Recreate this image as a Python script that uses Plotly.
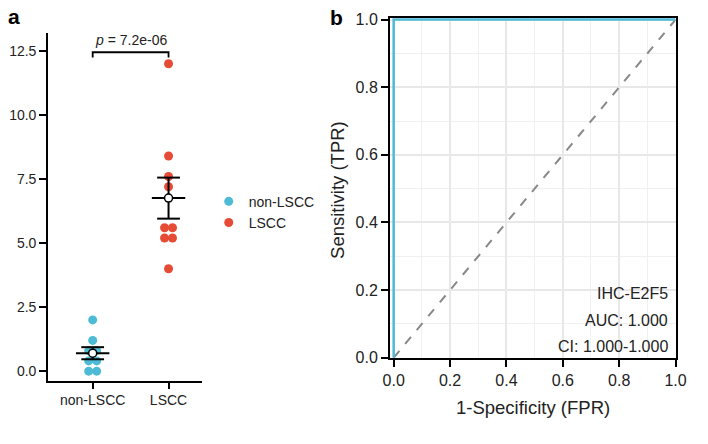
import numpy as np
import plotly.graph_objects as go

# ---------------- data ----------------
categories = ["non-LSCC", "LSCC"]
non_lscc_values = [2.0, 1.2, 0.8, 0.8, 0.4, 0.4, 0.0, 0.0]
lscc_values = [12.0, 8.4, 7.6, 7.2, 5.6, 5.6, 5.2, 5.2, 4.0]
p_label = "<i>p</i> = 7.2e-06"

roc_fpr = [0.0, 0.0, 1.0]
roc_tpr = [0.0, 1.0, 1.0]
diag = [0.0, 1.0]
roc_labels = ["IHC-E2F5", "AUC: 1.000", "CI: 1.000-1.000"]

colors = ["#4DBBD5", "#E64B35"]
FONT = "Liberation Sans, Arial, sans-serif"
TXT = "#222222"
W, H = 708, 444


def px_x(p):
    return p / W


def px_y(p):
    return 1 - p / H


def swarm_offsets(vals, step=0.05):
    """simple beeswarm: identical values are spread side by side"""
    vals = np.asarray(vals)
    off = np.zeros(len(vals))
    for v in np.unique(vals):
        idx = np.where(vals == v)[0]
        n = len(idx)
        off[idx] = (np.arange(n) - (n - 1) / 2) * step
    return off


fig = go.Figure()

# ---------------- panel a ----------------
groups = [non_lscc_values, lscc_values]
for i, (cat, vals) in enumerate(zip(categories, groups)):
    xpos = i + 1 + swarm_offsets(vals, 0.105)
    fig.add_trace(go.Scatter(
        x=xpos, y=vals, mode="markers", name=cat,
        marker=dict(color=colors[i], size=9, line=dict(width=0)),
        xaxis="x", yaxis="y", showlegend=True))

for i, vals in enumerate(groups):
    v = np.asarray(vals)
    m = v.mean()
    se = v.std(ddof=1) / np.sqrt(len(v))
    c = i + 1
    lx, ly = [], []
    lx += [c, c, None]; ly += [m - se, m + se, None]
    for yy in (m - se, m + se):
        lx += [c - 0.15, c + 0.15, None]; ly += [yy, yy, None]
    lx += [c - 0.22, c + 0.22, None]; ly += [m, m, None]
    fig.add_trace(go.Scatter(x=lx, y=ly, mode="lines",
                             line=dict(color="black", width=2),
                             xaxis="x", yaxis="y", showlegend=False, hoverinfo="skip"))
    fig.add_trace(go.Scatter(x=[c], y=[m], mode="markers",
                             marker=dict(color="white", size=8, line=dict(color="black", width=1.5)),
                             xaxis="x", yaxis="y", showlegend=False))

# significance bracket
ymax = max(max(non_lscc_values), max(lscc_values))
yb = ymax + 0.45
fig.add_trace(go.Scatter(x=[1, 1, 2, 2], y=[yb - 0.2, yb, yb, yb - 0.2], mode="lines",
                         line=dict(color="black", width=1.8),
                         xaxis="x", yaxis="y", showlegend=False, hoverinfo="skip"))
fig.add_annotation(x=1.5, y=yb, xref="x", yref="y", text=p_label, showarrow=False,
                   yanchor="bottom", yshift=2, font=dict(size=14, color=TXT, family=FONT))

# ---------------- panel b ----------------
fig.add_trace(go.Scatter(x=diag, y=diag, mode="lines",
                         line=dict(color="#888888", width=2, dash="dash"),
                         xaxis="x2", yaxis="y2", showlegend=False))
fig.add_trace(go.Scatter(x=roc_fpr, y=roc_tpr, mode="lines",
                         line=dict(color="#4DBBD5", width=2.5),
                         xaxis="x2", yaxis="y2", showlegend=False, cliponaxis=False))

for k, t in enumerate(roc_labels):
    fig.add_annotation(x=px_x(680), y=px_y([298, 326, 352][k]), xref="paper", yref="paper",
                       text=t, showarrow=False, xanchor="right", yanchor="middle",
                       font=dict(size=16, color=TXT, family=FONT))

# axis titles and panel tags
fig.add_annotation(x=px_x(540), y=px_y(416), xref="paper", yref="paper",
                   text="1-Specificity (FPR)", showarrow=False, xanchor="center", yanchor="middle",
                   font=dict(size=18.5, color=TXT, family=FONT))
fig.add_annotation(x=px_x(339), y=px_y(190), xref="paper", yref="paper",
                   text="Sensitivity (TPR)", showarrow=False, textangle=-90,
                   xanchor="center", yanchor="middle",
                   font=dict(size=18.5, color=TXT, family=FONT))
fig.add_annotation(x=px_x(7), y=px_y(11), xref="paper", yref="paper", text="<b>a</b>",
                   showarrow=False, xanchor="center", yanchor="middle",
                   font=dict(size=21, color="black", family=FONT))
fig.add_annotation(x=px_x(338), y=px_y(12), xref="paper", yref="paper", text="<b>b</b>",
                   showarrow=False, xanchor="center", yanchor="middle",
                   font=dict(size=21, color="black", family=FONT))

tickfont_ax = dict(size=14, color=TXT, family=FONT)
tickfont_ay = dict(size=14, color=TXT, family=FONT)
tickfont_b = dict(size=16, color=TXT, family=FONT)

fig.update_layout(
    width=W, height=H,
    margin=dict(l=0, r=0, t=0, b=0),
    paper_bgcolor="white", plot_bgcolor="white",
    font=dict(family=FONT, color=TXT),
    showlegend=True,
    legend=dict(x=px_x(207), y=px_y(186), xanchor="left", yanchor="top",
                font=dict(size=14, color=TXT, family=FONT),
                bgcolor="rgba(0,0,0,0)", tracegroupgap=0, itemwidth=30),
    xaxis=dict(domain=[px_x(42), px_x(200)], range=[0.41, 2.44],
               tickvals=[1, 2], ticktext=categories,
               showline=True, linecolor="black", linewidth=1.5,
               ticks="outside", ticklen=6, tickwidth=1.5, tickcolor="black",
               showgrid=False, zeroline=False, tickfont=tickfont_ax, anchor="y"),
    yaxis=dict(domain=[px_y(388), px_y(28)], range=[-0.38, 13.2],
               tickvals=[0, 2.5, 5, 7.5, 10, 12.5], tickformat=".1f",
               showline=True, linecolor="black", linewidth=1.5,
               ticks="outside", ticklen=7, tickwidth=1.5, tickcolor="black",
               showgrid=False, zeroline=False, tickfont=tickfont_ay, anchor="x"),
    xaxis2=dict(domain=[px_x(393), px_x(686)], range=[-0.013, 1.0],
                tickvals=[0, 0.2, 0.4, 0.6, 0.8, 1.0], tickformat=".1f",
                showline=True, mirror=True, linecolor="black", linewidth=2,
                ticks="outside", ticklen=7, tickwidth=1.5, tickcolor="black",
                showgrid=True, gridcolor="#E8E8E8", gridwidth=2,
                minor=dict(dtick=0.1, tick0=0, showgrid=True, gridcolor="#F0F0F0", gridwidth=1),
                zeroline=False, tickfont=tickfont_b, anchor="y2"),
    yaxis2=dict(domain=[px_y(364), px_y(12)], range=[0, 1.006],
                tickvals=[0, 0.2, 0.4, 0.6, 0.8, 1.0], tickformat=".1f",
                showline=True, mirror=True, linecolor="black", linewidth=2,
                ticks="outside", ticklen=7, tickwidth=1.5, tickcolor="black",
                showgrid=True, gridcolor="#E8E8E8", gridwidth=2,
                minor=dict(dtick=0.1, tick0=0, showgrid=True, gridcolor="#F0F0F0", gridwidth=1),
                zeroline=False, tickfont=tickfont_b, anchor="x2"),
)

fig.write_html("out.html")
